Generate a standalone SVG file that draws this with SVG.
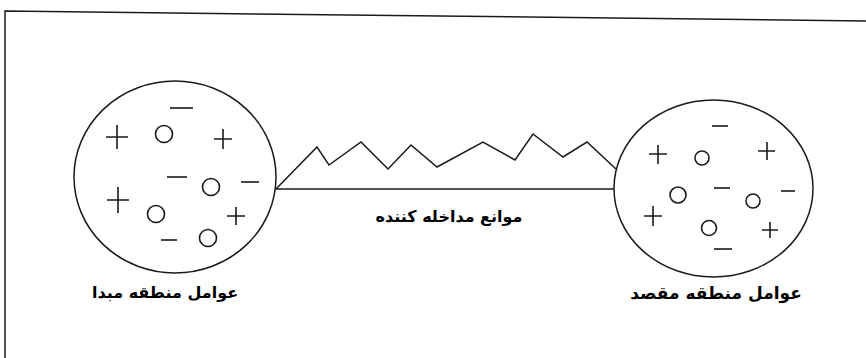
<svg xmlns="http://www.w3.org/2000/svg" width="866" height="358" viewBox="0 0 866 358">
<style>
.ln{fill:none;stroke:#1a1a1a;stroke-width:1.5}
.sym{fill:none;stroke:#1a1a1a;stroke-width:1.6}
.lbl{font-family:"DejaVu Sans","Noto Sans",sans-serif;font-weight:bold;font-size:16px;fill:#000;text-anchor:middle}
</style>
<rect width="866" height="358" fill="#fff"/>
<g id="frame">
<path class="ln" d="M5,358 V11 L866,21"/>
</g>
<g id="origin">
<ellipse class="ln" cx="175" cy="177" rx="101" ry="96"/>
<g class="sym">
<path d="M170,108 H193"/>
<path d="M106,137 H128 M117,125 V149"/>
<circle cx="164" cy="134" r="8.5"/>
<path d="M214,139 H232 M223,129 V149"/>
<path d="M167,177 H187"/>
<circle cx="211" cy="187" r="8.5"/>
<path d="M241,182 H259"/>
<path d="M107,200 H129 M118,187 V213"/>
<circle cx="156" cy="214" r="8.5"/>
<path d="M227,216 H245 M236,207 V225"/>
<path d="M161,240 H177"/>
<circle cx="208" cy="238" r="8.5"/>
</g>
<text class="lbl" x="165" y="298">عوامل منطقه مبدا</text>
</g>
<g id="destination">
<ellipse class="ln" cx="713.5" cy="188.5" rx="99.5" ry="88.5"/>
<g class="sym">
<path d="M712,126 H728"/>
<path d="M649,154 H667 M658,145 V164"/>
<circle cx="702" cy="158" r="7"/>
<path d="M758,151 H775 M767,142 V160"/>
<circle cx="678" cy="195" r="8"/>
<path d="M714,188 H730"/>
<circle cx="753" cy="201" r="7"/>
<path d="M781,191 H795"/>
<path d="M644,216 H662 M653,206 V226"/>
<circle cx="709" cy="228" r="7.5"/>
<path d="M762,230 H778 M770,222 V238"/>
<path d="M714,249 H732"/>
</g>
<text class="lbl" x="716" y="299" style="font-size:17px">عوامل منطقه مقصد</text>
</g>
<g id="connectors">
<path class="ln" d="M276,189 H614"/>
<path class="ln" d="M276,189 L317,147 L329,165 L361,142 L388,169 L411,145 L437,167 L483,142 L515,160 L533,134 L563,157 L587,142 L616,169"/>
<text class="lbl" x="449" y="222">موانع مداخله کننده</text>
</g>
</svg>
